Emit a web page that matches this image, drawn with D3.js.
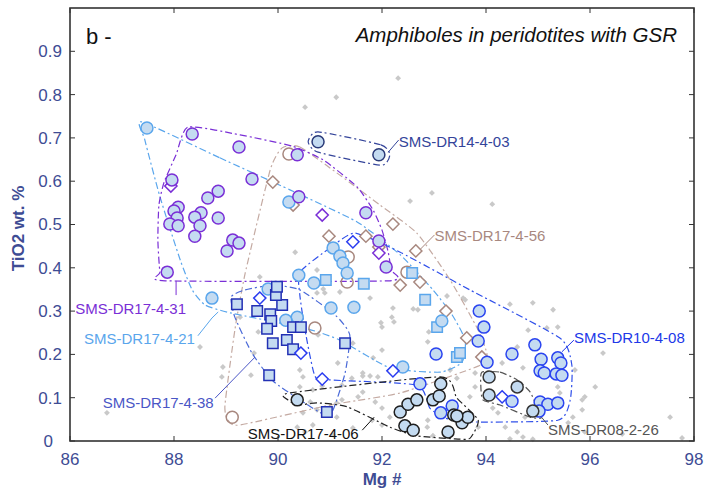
<!DOCTYPE html>
<html>
<head>
<meta charset="utf-8">
<script src="https://cdn.jsdelivr.net/npm/d3@7"></script>
<style>
  body { margin: 0; background: #fff; }
  svg { display: block; font-family: 'Liberation Sans', Arial, sans-serif; }
</style>
</head>
<body>
<svg id="chart" width="704" height="492"></svg>
<script>
// axis ticks
const xTicks = [86, 88, 90, 92, 94, 96, 98];
const yTicks = [0, 0.1, 0.2, 0.3, 0.4, 0.5, 0.6, 0.7, 0.8, 0.9];

// background GSR amphiboles [Mg#, TiO2]
const gsr = [
  [92.31, 0.838], [91.12, 0.794], [90.52, 0.771], [92.96, 0.573], [92.54, 0.554], [94.12, 0.547],
  [89.27, 0.286], [88.50, 0.217], [88.94, 0.171], [88.92, 0.148], [86.71, 0.065], [89.48, 0.152],
  [89.65, 0.379], [89.54, 0.203], [89.62, 0.252], [90.75, 0.342], [90.87, 0.351], [91.77, 0.330],
  [91.98, 0.273], [92.23, 0.275], [92.60, 0.305], [92.69, 0.303], [92.90, 0.252], [93.25, 0.335],
  [91.15, 0.180], [91.42, 0.145], [91.63, 0.150], [91.77, 0.150], [91.92, 0.148], [91.23, 0.129],
  [91.54, 0.102], [91.13, 0.088], [91.87, 0.090], [92.15, 0.055], [92.00, 0.037], [92.87, 0.032],
  [90.48, 0.065], [90.67, 0.037], [90.37, 0.032], [91.44, 0.030], [91.06, 0.014], [92.98, 0.012],
  [93.44, 0.145], [93.31, 0.164], [90.42, 0.164], [90.75, 0.072], [90.62, 0.090], [90.42, 0.125],
  [93.60, 0.326], [94.90, 0.319], [94.60, 0.217], [94.81, 0.256], [94.31, 0.180], [94.71, 0.169],
  [95.71, 0.164], [96.10, 0.125], [95.85, 0.095], [95.85, 0.072], [95.67, 0.055], [95.58, 0.042],
  [94.75, 0.055], [94.71, 0.009], [94.23, 0.065], [93.85, 0.032], [94.37, 0.032], [94.46, 0.316],
  [96.25, 0.203], [95.90, 0.102], [97.54, 0.055], [97.77, 0.007], [96.62, 0.016], [95.90, 0.021],
  [94.90, 0.004], [94.60, 0.021], [94.46, 0.005], [94.13, 0.076], [93.56, 0.330], [95.17, 0.261],
  [95.29, 0.303], [95.38, 0.263], [95.38, 0.125], [95.42, 0.111], [90.33, 0.436], [90.75, 0.395],
  [90.90, 0.342], [91.19, 0.344], [90.77, 0.245], [90.38, 0.210], [91.44, 0.226], [91.63, 0.157],
  [91.83, 0.192], [92.00, 0.210], [92.21, 0.307], [92.19, 0.286], [92.00, 0.263], [90.48, 0.148],
  [90.67, 0.118], [90.85, 0.127], [91.23, 0.095], [91.13, 0.055], [90.52, 0.021], [91.81, 0.048],
  [92.00, 0.076], [91.63, 0.113], [92.88, 0.229], [92.88, 0.048], [93.69, 0.102], [93.79, 0.125],
  [93.79, 0.157]
];

// SMS-DR17-4-31
const dr1731Circles = [
  [88.35, 0.709], [89.25, 0.679], [89.50, 0.605], [88.85, 0.577], [88.65, 0.561], [88.08, 0.540],
  [88.00, 0.531], [88.06, 0.515], [87.92, 0.501], [88.08, 0.497], [88.52, 0.527], [88.40, 0.517],
  [88.50, 0.497], [88.85, 0.515], [88.40, 0.473], [89.13, 0.464], [89.25, 0.457], [89.02, 0.439],
  [87.87, 0.390], [87.96, 0.603], [90.37, 0.661], [90.40, 0.564], [91.69, 0.527], [91.94, 0.462],
  [92.08, 0.402]
];
const dr1731Diamonds = [[87.94, 0.589], [90.85, 0.522], [91.94, 0.434]];

// SMS-DR17-4-21
const dr1721Circles = [
  [87.48, 0.723], [90.21, 0.552], [91.06, 0.446], [91.19, 0.427], [91.25, 0.411], [91.33, 0.388],
  [90.40, 0.383], [90.69, 0.365], [91.02, 0.307], [91.46, 0.309], [90.37, 0.286], [90.15, 0.279],
  [89.81, 0.351], [88.73, 0.330], [93.15, 0.277], [92.40, 0.171]
];
const dr1721Squares = [
  [90.92, 0.372], [91.65, 0.363], [92.58, 0.388], [92.83, 0.326], [93.06, 0.263], [93.44, 0.194],
  [93.50, 0.203]
];

// SMS-DR17-4-38
const dr1738Squares = [
  [89.21, 0.316], [89.60, 0.300], [89.85, 0.293], [89.87, 0.277], [89.79, 0.259], [89.90, 0.226],
  [90.17, 0.233], [90.29, 0.212], [90.08, 0.314], [89.96, 0.337], [89.98, 0.356], [90.29, 0.263],
  [90.44, 0.263], [89.83, 0.152], [91.29, 0.226], [90.94, 0.067]
];
const blueDiamonds = [
  [89.65, 0.330], [90.44, 0.203], [90.85, 0.143], [92.21, 0.162], [91.44, 0.460], [94.31, 0.102]
];

// SMS-DR17-4-56
const dr1756Circles = [
  [90.21, 0.663], [91.35, 0.425], [91.33, 0.367], [90.71, 0.261], [89.12, 0.055], [92.48, 0.390]
];
const dr1756Diamonds = [
  [89.90, 0.598], [90.98, 0.473], [91.69, 0.473], [92.21, 0.501], [92.65, 0.439], [91.94, 0.448],
  [92.35, 0.360], [92.73, 0.367], [93.23, 0.300], [93.63, 0.238], [93.92, 0.194], [90.29, 0.545]
];

// SMS-DR14-4-03
const dr1403 = [[90.77, 0.691], [91.94, 0.661]];

// SMS-DR10-4-08
const dr1008 = [
  [93.87, 0.300], [93.96, 0.263], [93.85, 0.231], [94.02, 0.182], [94.50, 0.201], [94.94, 0.222],
  [95.06, 0.189], [95.38, 0.192], [95.44, 0.180], [95.04, 0.162], [95.12, 0.157], [95.35, 0.155],
  [95.46, 0.152], [95.04, 0.090], [95.19, 0.085], [95.38, 0.088], [95.02, 0.069], [94.50, 0.092],
  [93.04, 0.201], [92.73, 0.132], [93.35, 0.081], [93.13, 0.065]
];

// SMS-DR17-4-06
const dr1706 = [
  [90.37, 0.095], [92.35, 0.067], [92.50, 0.085], [92.67, 0.095], [92.98, 0.095], [93.10, 0.104],
  [93.13, 0.132], [92.44, 0.035], [92.60, 0.025], [93.27, 0.021], [93.38, 0.060], [93.54, 0.042],
  [93.65, 0.055], [93.44, 0.058]
];

// SMS-DR08-2-26
const dr0826 = [[94.06, 0.148], [94.06, 0.106], [94.60, 0.125], [94.90, 0.069]];

// field outlines
const hull1731 = [
  [88.27, 0.725], [89.27, 0.707], [90.27, 0.681], [90.87, 0.649], [91.52, 0.587], [91.83, 0.533],
  [92.00, 0.487], [92.12, 0.436], [92.17, 0.395], [92.12, 0.370], [87.83, 0.370], [87.73, 0.390],
  [87.69, 0.464], [87.71, 0.545], [87.81, 0.598], [88.04, 0.661]
];
const hull1721 = [
  [87.38, 0.737], [88.88, 0.654], [90.23, 0.580], [91.52, 0.506], [92.35, 0.430], [92.98, 0.349],
  [93.35, 0.291], [93.60, 0.233], [93.54, 0.182], [93.12, 0.159], [92.15, 0.169], [91.19, 0.233],
  [90.56, 0.259], [89.08, 0.296], [88.60, 0.314], [88.35, 0.349], [88.12, 0.418], [87.73, 0.564],
  [87.44, 0.695]
];
const hull1738 = [
  [89.10, 0.333], [89.37, 0.349], [89.90, 0.360], [90.42, 0.349], [91.10, 0.291], [91.38, 0.245],
  [91.29, 0.157], [91.06, 0.072], [90.90, 0.060], [90.42, 0.095], [89.90, 0.139], [89.50, 0.203],
  [89.17, 0.286]
];
const hull1756 = [
  [90.08, 0.677], [90.42, 0.679], [91.19, 0.614], [91.96, 0.545], [92.67, 0.480], [93.31, 0.372],
  [93.85, 0.256], [94.02, 0.199], [93.85, 0.173], [92.35, 0.111], [91.00, 0.083], [89.27, 0.037],
  [89.04, 0.048], [88.98, 0.083], [89.17, 0.256], [89.37, 0.388], [89.85, 0.626]
];
const hull1403 = [
  [90.77, 0.714], [91.98, 0.684], [92.15, 0.661], [91.98, 0.637], [90.77, 0.667], [90.58, 0.691]
];
const hull1008 = [
  [90.42, 0.390], [91.00, 0.446], [91.48, 0.480], [92.35, 0.436], [93.69, 0.349], [95.42, 0.238],
  [95.65, 0.176], [95.62, 0.095], [95.38, 0.048], [93.69, 0.044], [93.21, 0.053], [92.92, 0.076],
  [92.67, 0.129], [91.00, 0.141], [90.71, 0.150], [90.52, 0.256], [90.42, 0.337]
];
const hull1706 = [
  [90.23, 0.111], [93.12, 0.148], [93.44, 0.099], [93.85, 0.048], [93.69, 0.006], [93.40, 0.005],
  [92.67, 0.012], [92.15, 0.032], [91.33, 0.079], [90.75, 0.088], [90.38, 0.083], [90.19, 0.095]
];
const hull0826 = [
  [93.92, 0.159], [94.27, 0.159], [94.60, 0.141], [94.85, 0.113], [95.00, 0.072], [95.06, 0.053],
  [94.85, 0.055], [94.27, 0.083], [93.94, 0.095], [93.90, 0.129]
];

// sample labels: text start and leader line, in data units
const labels = [
  { text: 'SMS-DR14-4-03', color: '#34449a', at: [92.32, 0.690], lead: [[92.12, 0.667], [92.32, 0.695]] },
  { text: 'SMS-DR17-4-56', color: '#a8887f', at: [93.01, 0.474], lead: [[92.73, 0.442], [93.01, 0.476]] },
  { text: 'SMS-DR17-4-31', color: '#7a2fd6', at: [86.10, 0.305], lead: [[88.04, 0.370], [88.04, 0.337]] },
  { text: 'SMS-DR17-4-21', color: '#5aa6ec', at: [86.27, 0.237], lead: [[88.46, 0.243], [88.73, 0.284], [88.85, 0.298]] },
  { text: 'SMS-DR17-4-38', color: '#4a56c6', at: [86.63, 0.089], lead: [[88.79, 0.099], [89.56, 0.194]] },
  { text: 'SMS-DR17-4-06', color: '#111111', at: [89.42, 0.016], lead: [[91.62, 0.025], [91.85, 0.055]] },
  { text: 'SMS-DR10-4-08', color: '#2038e8', at: [95.69, 0.238], lead: [[95.46, 0.206], [95.69, 0.233]] },
  { text: 'SMS-DR08-2-26', color: '#555555', at: [95.19, 0.025], lead: [[95.00, 0.065], [95.19, 0.037]] }
];

const svg = d3.select('#chart');
const mLeft = 70, mRight = 694, mTop = 8, mBottom = 441;

const x = d3.scaleLinear().domain([86, 98]).range([mLeft, mRight]);
const y = d3.scaleLinear().domain([0, 1]).range([mBottom, mTop]);

const axisColor = '#3e4c94';
const fillBlue = '#c4dbf1';

// background points
svg.append('g')
  .selectAll('path')
  .data(gsr)
  .join('path')
  .attr('d', d3.symbol(d3.symbolDiamond2, 22))
  .attr('transform', (d) => `translate(${x(d[0])},${y(d[1])})`)
  .attr('fill', '#c9c9c9');

// fields
const hullLine = d3.line()
  .x((d) => x(d[0]))
  .y((d) => y(d[1]))
  .curve(d3.curveCardinalClosed.tension(0.45));

const hulls = [
  [hull1756, '#c4aaa2'],
  [hull1721, '#5aa6ec'],
  [hull1731, '#7a2fd6'],
  [hull1738, '#4a6ad8'],
  [hull1008, '#3050ea'],
  [hull1403, '#34449a'],
  [hull1706, '#222222'],
  [hull0826, '#555555']
];

svg.append('g')
  .selectAll('path')
  .data(hulls)
  .join('path')
  .attr('d', (d) => hullLine(d[0]))
  .attr('fill', 'none')
  .attr('stroke', (d) => d[1])
  .attr('stroke-width', 1.2)
  .attr('stroke-dasharray', '7,3,2,3');

// leader lines and labels
const leadLine = d3.line().x((d) => x(d[0])).y((d) => y(d[1]));
const lab = svg.append('g');
labels.forEach(function (l) {
  lab.append('path')
    .attr('d', leadLine(l.lead))
    .attr('fill', 'none')
    .attr('stroke', l.color)
    .attr('stroke-width', 1);
  lab.append('text')
    .attr('x', x(l.at[0]))
    .attr('y', y(l.at[1]))
    .attr('dy', '0.35em')
    .attr('fill', l.color)
    .attr('font-size', 15)
    .text(l.text);
});

// markers
function circles(data, stroke, fill) {
  svg.append('g')
    .selectAll('circle')
    .data(data)
    .join('circle')
    .attr('cx', (d) => x(d[0]))
    .attr('cy', (d) => y(d[1]))
    .attr('r', 6)
    .attr('fill', fill)
    .attr('stroke', stroke)
    .attr('stroke-width', 1.5);
}

function symbols(data, type, size, stroke, fill) {
  svg.append('g')
    .selectAll('path')
    .data(data)
    .join('path')
    .attr('d', d3.symbol(type, size))
    .attr('transform', (d) => `translate(${x(d[0])},${y(d[1])})`)
    .attr('fill', fill)
    .attr('stroke', stroke)
    .attr('stroke-width', 1.5);
}

circles(dr1756Circles, '#a8887f', 'none');
symbols(dr1756Diamonds, d3.symbolDiamond2, 95, '#a8887f', '#fff');
symbols(dr1721Squares, d3.symbolSquare, 110, '#5aa6ec', fillBlue);
circles(dr1721Circles, '#5aa6ec', fillBlue);
symbols(dr1731Diamonds, d3.symbolDiamond2, 95, '#7a2fd6', '#fff');
circles(dr1731Circles, '#7a2fd6', fillBlue);
symbols(dr1738Squares, d3.symbolSquare, 110, '#2230b4', fillBlue);
symbols(blueDiamonds, d3.symbolDiamond2, 95, '#2a3cf0', '#fff');
circles(dr1008, '#2a44f0', fillBlue);
circles(dr1403, '#2a3a78', fillBlue);
circles(dr1706, '#1e1e1e', fillBlue);
circles(dr0826, '#333333', fillBlue);

// frame and inward ticks
svg.append('rect')
  .attr('x', mLeft).attr('y', mTop)
  .attr('width', mRight - mLeft).attr('height', mBottom - mTop)
  .attr('fill', 'none')
  .attr('stroke', '#333')
  .attr('stroke-width', 1.6);

const tickG = svg.append('g').attr('stroke', '#333').attr('stroke-width', 1);
yTicks.forEach(function (t) {
  tickG.append('line').attr('x1', mLeft).attr('x2', mLeft + 5).attr('y1', y(t)).attr('y2', y(t));
  tickG.append('line').attr('x1', mRight).attr('x2', mRight - 5).attr('y1', y(t)).attr('y2', y(t));
});
xTicks.forEach(function (t) {
  tickG.append('line').attr('x1', x(t)).attr('x2', x(t)).attr('y1', mTop).attr('y2', mTop + 5);
  tickG.append('line').attr('x1', x(t)).attr('x2', x(t)).attr('y1', mBottom).attr('y2', mBottom - 5);
});

svg.append('g')
  .selectAll('text')
  .data(yTicks)
  .join('text')
  .attr('x', mLeft - 8)
  .attr('y', (d) => y(d))
  .attr('dx', (d) => (d === 0 ? -9 : 0))
  .attr('dy', '0.35em')
  .attr('text-anchor', 'end')
  .attr('fill', axisColor)
  .attr('font-size', 17)
  .text((d) => (d === 0 ? '0' : d3.format('.1f')(d)));

svg.append('g')
  .selectAll('text')
  .data(xTicks)
  .join('text')
  .attr('x', (d) => x(d))
  .attr('y', mBottom + 18)
  .attr('dy', '0.35em')
  .attr('text-anchor', 'middle')
  .attr('fill', axisColor)
  .attr('font-size', 17)
  .text((d) => d);

// axis titles
svg.append('text')
  .attr('transform', `translate(24,${(mTop + mBottom) / 2 + 4}) rotate(-90)`)
  .attr('text-anchor', 'middle')
  .attr('fill', axisColor)
  .attr('font-size', 17)
  .attr('font-weight', 'bold')
  .text('TiO2 wt. %');

svg.append('text')
  .attr('x', (mLeft + mRight) / 2)
  .attr('y', 479)
  .attr('dy', '0.35em')
  .attr('text-anchor', 'middle')
  .attr('fill', axisColor)
  .attr('font-size', 17)
  .attr('font-weight', 'bold')
  .text('Mg #');

// panel captions
svg.append('text')
  .attr('x', 86).attr('y', 36).attr('dy', '0.35em')
  .attr('font-size', 22).attr('fill', '#111')
  .text('b -');

svg.append('text')
  .attr('x', 677).attr('y', 35).attr('dy', '0.35em')
  .attr('text-anchor', 'end')
  .attr('font-size', 20.5).attr('font-style', 'italic').attr('fill', '#111')
  .text('Amphiboles in peridotites with GSR');
</script>
</body>
</html>
